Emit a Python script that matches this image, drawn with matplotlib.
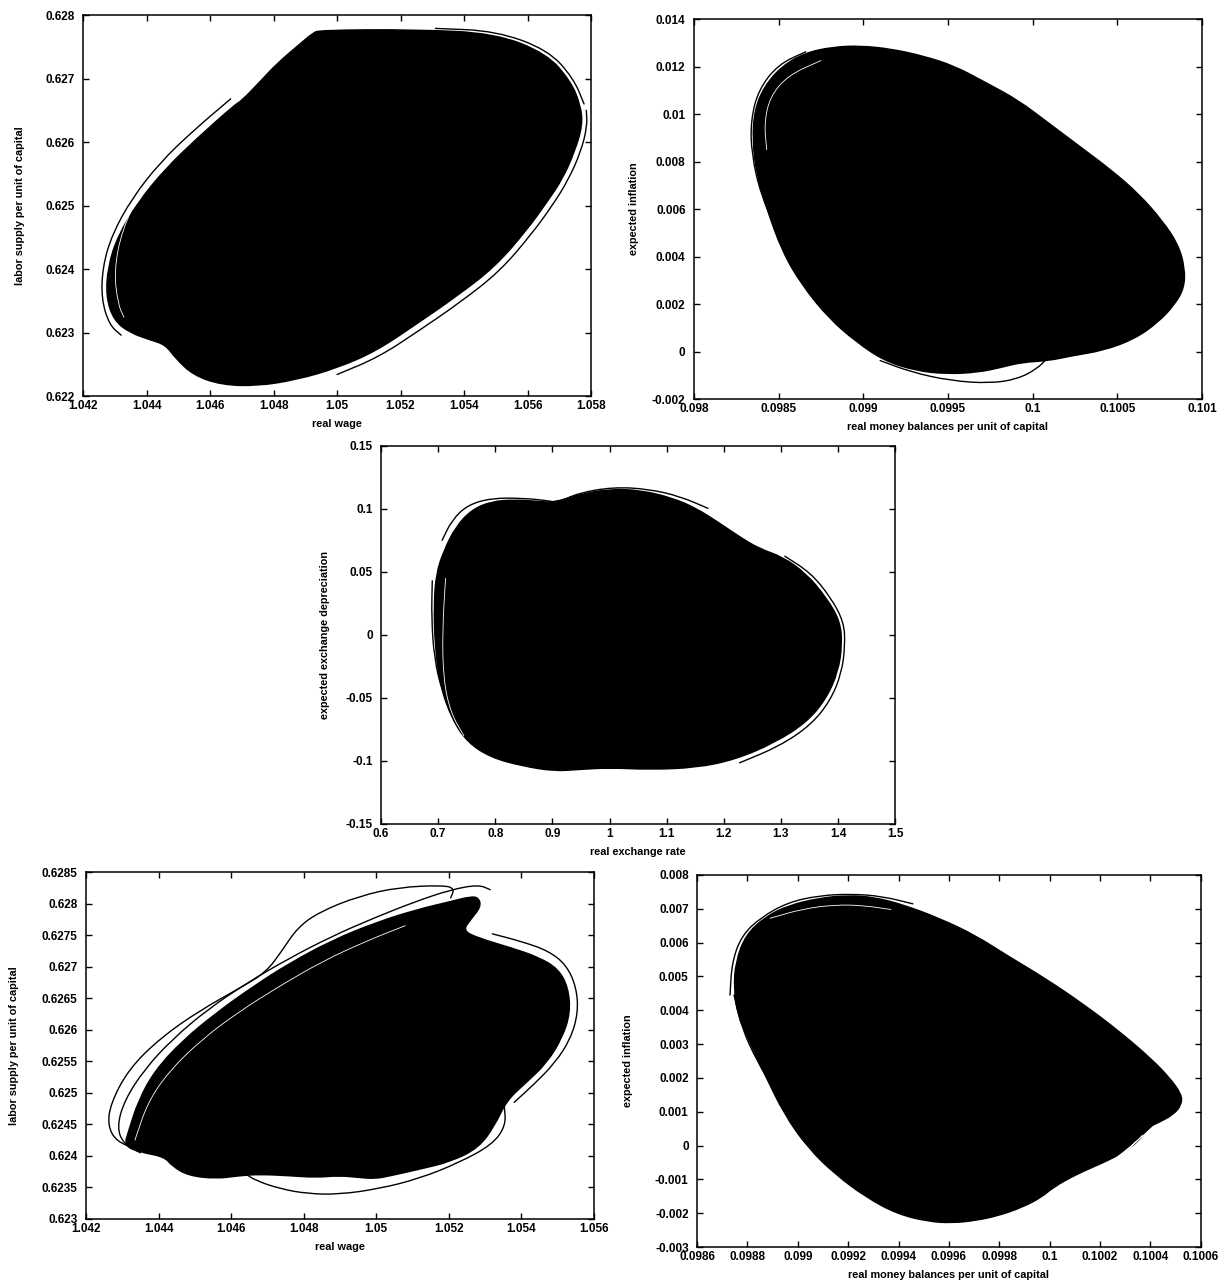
"""Phase portraits of the simulated model: five attractor projections."""
import numpy as np
import matplotlib
matplotlib.use('Agg')
import matplotlib.pyplot as plt
from matplotlib.path import Path
from matplotlib.patches import PathPatch
from matplotlib.ticker import FixedLocator, FuncFormatter

plt.rcParams.update({'font.family': ['Liberation Sans', 'DejaVu Sans'],
                     'font.weight': 'bold', 'font.size': 8})

# ---- panel 1: real wage vs labor supply ----
P1_WAGE = [1.04945, 1.05248, 1.05498, 1.0566, 1.05735, 1.05766, 1.05773, 1.05748, 1.0571,
           1.0566, 1.05598, 1.05498, 1.05373, 1.05248, 1.05123, 1.04998, 1.04873, 1.04748,
           1.04635, 1.04548, 1.04491, 1.0446, 1.0441, 1.04348, 1.04298, 1.04273, 1.04279,
           1.0431, 1.04373, 1.0446, 1.0456, 1.04679, 1.04698, 1.0476, 1.0481, 1.04885, 1.04923]
P1_LABOR = [0.62776, 0.62777, 0.62771, 0.62739, 0.62696, 0.62659, 0.62627, 0.62585, 0.62542,
            0.62505, 0.62462, 0.62404, 0.62356, 0.62313, 0.62271, 0.62244, 0.62226, 0.62216,
            0.62218, 0.62233, 0.6226, 0.62281, 0.62289, 0.623, 0.62319, 0.62356, 0.62404,
            0.62452, 0.62505, 0.62558, 0.62606, 0.62659, 0.62664, 0.62696, 0.62723, 0.62755, 0.62771]
P1_LOOP_LEFT_WAGE = [1.04665, 1.04545, 1.04443, 1.04355, 1.04292, 1.04262, 1.04258, 1.04283, 1.0432]
P1_LOOP_LEFT_LABOR = [0.62668, 0.62617, 0.62568, 0.62512, 0.62455, 0.62404, 0.62353, 0.62312, 0.62296]
P1_LOOP_RIGHT_WAGE = [1.05, 1.0513, 1.05258, 1.05386, 1.05512, 1.05614, 1.05678, 1.05728,
                      1.05768, 1.05788, 1.05785]
P1_LOOP_RIGHT_LABOR = [0.62234, 0.62261, 0.62303, 0.62347, 0.62396, 0.62456, 0.625, 0.6254,
                       0.62585, 0.62625, 0.6265]
P1_LOOP_TOP_WAGE = [1.0531, 1.055, 1.05665, 1.05745, 1.05778]
P1_LOOP_TOP_LABOR = [0.62779, 0.62775, 0.62745, 0.627, 0.6266]
P1_STREAK_WAGE = [1.04385, 1.04323, 1.04298, 1.0431, 1.04329]
P1_STREAK_LABOR = [0.62526, 0.62462, 0.62398, 0.62345, 0.62324]

# ---- panel 2: real money balances vs expected inflation ----
P2_MONEY = [0.098347, 0.098359, 0.098417, 0.098521, 0.09866, 0.098822, 0.098984, 0.099169,
            0.099354, 0.099539, 0.099725, 0.09991, 0.100095, 0.10028, 0.100465, 0.100627,
            0.100766, 0.100859, 0.100898, 0.100894, 0.100836, 0.100743, 0.100604, 0.100419,
            0.100234, 0.100095, 0.099933, 0.099817, 0.099678, 0.099493, 0.099308, 0.099123,
            0.098961, 0.098799, 0.098637, 0.098521, 0.098428, 0.09837]
P2_INFL = [0.0089, 0.01018, 0.01117, 0.01202, 0.01258, 0.01282, 0.01287, 0.01273, 0.01244,
           0.01202, 0.01131, 0.0106, 0.00961, 0.00862, 0.00763, 0.00663, 0.0055, 0.00451,
           0.00352, 0.00267, 0.00196, 0.00125, 0.00054, 0.00005, -0.00017, -0.00038,
           -0.00045, -0.00066, -0.00087, -0.00094, -0.0008, -0.00038, 0.0004, 0.00139,
           0.00281, 0.00423, 0.00607, 0.00748]
P2_LOOP_LOW_MONEY = [0.0991, 0.099285, 0.099516, 0.099748, 0.09991, 0.100025, 0.100083]
P2_LOOP_LOW_INFL = [-0.00038, -0.00087, -0.00123, -0.00134, -0.00116, -0.00073, -0.00031]
P2_LOOP_LEFT_MONEY = [0.09866, 0.098498, 0.098382, 0.098336, 0.09834, 0.098394, 0.098498,
                      0.09866, 0.098845, 0.09903, 0.099215]
P2_LOOP_LEFT_INFL = [0.01262, 0.01209, 0.01103, 0.00975, 0.00833, 0.00663, 0.00493,
                     0.00309, 0.00154, 0.00026, -0.00059]
P2_STREAK_MONEY = [0.09875, 0.09856, 0.09845, 0.098415, 0.09843]
P2_STREAK_INFL = [0.01225, 0.01165, 0.01075, 0.0096, 0.0085]

# ---- panel 3: real exchange rate vs expected depreciation ----
P3_RATE = [0.693, 0.6966, 0.7103, 0.731, 0.7586, 0.7931, 0.8345, 0.8759, 0.9034, 0.9448, 1.0,
           1.0552, 1.1103, 1.1517, 1.1931, 1.2276, 1.2621, 1.3034, 1.3448, 1.3793, 1.4034,
           1.4069, 1.4, 1.3793, 1.3448, 1.2897, 1.2207, 1.1517, 1.069, 1.0, 0.9448, 0.9034,
           0.8483, 0.7931, 0.7517, 0.7241, 0.7034, 0.6945]
P3_DEPR = [0.0243, 0.0484, 0.0671, 0.0858, 0.0992, 0.1059, 0.1072, 0.1059, 0.1051, 0.1112,
           0.1158, 0.1147, 0.1086, 0.1005, 0.0885, 0.0778, 0.0684, 0.0618, 0.0484, 0.0297,
           0.011, -0.0078, -0.0291, -0.0505, -0.0693, -0.0853, -0.0987, -0.1053, -0.1067,
           -0.1053, -0.1067, -0.108, -0.104, -0.0973, -0.0853, -0.0666, -0.0398, -0.0078]
P3_LOOP_RIGHT_RATE = [1.3069, 1.3517, 1.3862, 1.4103, 1.4124, 1.4062, 1.3862, 1.3517, 1.2966, 1.2276]
P3_LOOP_RIGHT_DEPR = [0.0625, 0.0495, 0.0305, 0.0105, -0.0085, -0.0305, -0.0525, -0.0718, -0.0885, -0.1015]
P3_LOOP_TOP_RATE = [0.7069, 0.7241, 0.7517, 0.7931, 0.8483, 0.8897, 0.9103, 0.9448, 1.0069,
                    1.069, 1.1241, 1.1724]
P3_LOOP_TOP_DEPR = [0.0751, 0.0912, 0.1032, 0.1086, 0.1086, 0.1067, 0.1051, 0.1126, 0.1174,
                    0.1158, 0.1099, 0.1005]
P3_LOOP_LEFT_RATE = [0.6897, 0.6883, 0.6931, 0.7069, 0.731, 0.7655]
P3_LOOP_LEFT_DEPR = [0.043, 0.0136, -0.0184, -0.0452, -0.0693, -0.0866]
P3_STREAK_RATE = [0.713, 0.7075, 0.709, 0.722, 0.745]
P3_STREAK_DEPR = [0.045, 0.005, -0.035, -0.062, -0.08]

# ---- panel 4: real wage vs labor supply (second economy) ----
P4_WAGE = [1.05282, 1.05288, 1.0526, 1.05238, 1.05282, 1.0537, 1.05447, 1.05502, 1.05529,
           1.05534, 1.05512, 1.05469, 1.05414, 1.05359, 1.05326, 1.05282, 1.05205, 1.05118,
           1.05041, 1.04997, 1.04953, 1.04898, 1.04833, 1.04756, 1.04679, 1.04624, 1.04559,
           1.04482, 1.04438, 1.04416, 1.0435, 1.04306, 1.04317, 1.04345, 1.0439, 1.04465,
           1.0456, 1.0466, 1.0476, 1.0488, 1.05, 1.0511, 1.05205, 1.0526]
P4_LABOR = [0.62809, 0.62795, 0.62775, 0.62757, 0.62745, 0.6273, 0.62715, 0.62696, 0.62666,
            0.62626, 0.62587, 0.62547, 0.62517, 0.62488, 0.62448, 0.62413, 0.62391, 0.62379,
            0.62369, 0.62364, 0.62366, 0.62369, 0.62366, 0.62369, 0.62371, 0.62369, 0.62364,
            0.62369, 0.62384, 0.62399, 0.62406, 0.62416, 0.62438, 0.62488, 0.62535, 0.62582,
            0.62627, 0.62668, 0.62705, 0.62742, 0.6277, 0.6279, 0.62803, 0.62811]
P4_LOOP_OUTER_WAGE = [1.05205, 1.05216, 1.05184, 1.05063, 1.04953, 1.04844, 1.04783, 1.0474,
                      1.04696, 1.04624, 1.04515, 1.04405, 1.04317, 1.04268, 1.0426, 1.04284, 1.04339]
P4_LOOP_OUTER_LABOR = [0.62809, 0.62824, 0.62829, 0.62826, 0.62812, 0.62787, 0.62762, 0.62725,
                       0.62691, 0.62666, 0.62631, 0.62587, 0.62537, 0.62483, 0.62448, 0.62423, 0.62411]
P4_LOOP_MID_WAGE = [1.05314, 1.05282, 1.05205, 1.05107, 1.04997, 1.04877, 1.04756, 1.04646,
                    1.04537, 1.04438, 1.04361, 1.04306, 1.04285, 1.04305, 1.0435]
P4_LOOP_MID_LABOR = [0.62822, 0.6283, 0.62822, 0.62803, 0.62778, 0.62748, 0.62712, 0.62675,
                     0.62633, 0.62585, 0.62537, 0.62488, 0.62445, 0.62418, 0.62405]
P4_LOOP_RIGHT_WAGE = [1.0532, 1.054, 1.05475, 1.05525, 1.05552, 1.05556, 1.05535, 1.05492,
                      1.05432, 1.0538]
P4_LOOP_RIGHT_LABOR = [0.62752, 0.6274, 0.62725, 0.62702, 0.62666, 0.62626, 0.62585, 0.62547,
                       0.62512, 0.62485]
P4_LOOP_LOW_WAGE = [1.05353, 1.05357, 1.0532, 1.05227, 1.05118, 1.05008, 1.04898, 1.04811,
                    1.04734, 1.04668, 1.04641]
P4_LOOP_LOW_LABOR = [0.62478, 0.62448, 0.62418, 0.62389, 0.62364, 0.62348, 0.62339, 0.6234,
                     0.62348, 0.62361, 0.62371]
P4_STREAK_WAGE = [1.04335, 1.0437, 1.0443, 1.0452, 1.0462, 1.0473, 1.0485, 1.0497, 1.0508]
P4_STREAK_LABOR = [0.62425, 0.62485, 0.62535, 0.62585, 0.62628, 0.62668, 0.62708, 0.6274, 0.62765]

# ---- panel 5: real money balances vs expected inflation (second economy) ----
P5_MONEY = [0.098747, 0.098754, 0.098793, 0.09887, 0.098963, 0.0990865, 0.099195, 0.099303,
            0.099426, 0.099565, 0.099704, 0.099828, 0.099982, 0.100137, 0.100276, 0.100399,
            0.100476, 0.100523, 0.100523, 0.100492, 0.10043, 0.100399, 0.100353, 0.100291,
            0.100214, 0.100106, 0.100013, 0.099967, 0.09989, 0.099797, 0.099704, 0.099612,
            0.099519, 0.099395, 0.099272, 0.099148, 0.09904, 0.098947, 0.09887, 0.098808, 0.098762]
P5_INFL = [0.004647, 0.005431, 0.006216, 0.006755, 0.007098, 0.007314, 0.007392, 0.007343,
           0.007098, 0.006706, 0.006216, 0.005627, 0.004941, 0.004157, 0.003373, 0.002588,
           0.002, 0.00151, 0.001216, 0.000922, 0.000676, 0.000578, 0.000137, -0.000206,
           -0.0005, -0.000843, -0.001235, -0.001529, -0.001824, -0.002069, -0.002216,
           -0.002284, -0.002245, -0.00202, -0.001529, -0.000843, -0.000059, 0.000922,
           0.002098, 0.003078, 0.003863]
P5_LOOP_TOP_MONEY = [0.098731, 0.098739, 0.098778, 0.098855, 0.098963, 0.099086, 0.09921, 0.099334, 0.099457]
P5_LOOP_TOP_INFL = [0.004451, 0.005431, 0.006216, 0.006755, 0.007196, 0.007392, 0.007441, 0.007373, 0.007147]
P5_LOOP_LEFT_MONEY = [0.098747, 0.098778, 0.098839, 0.098917, 0.098994, 0.099086, 0.099148]
P5_LOOP_LEFT_INFL = [0.004451, 0.003471, 0.00249, 0.00151, 0.000627, -0.000255, -0.000745]
P5_STREAK_MONEY = [0.09889, 0.09902, 0.09915, 0.09926, 0.09937]
P5_STREAK_INFL = [0.00672, 0.00700, 0.00712, 0.00710, 0.00698]
P5_LOOP_SMALL_MONEY = [0.100395, 0.100362, 0.100322, 0.100284, 0.100268, 0.100296, 0.100334, 0.100368]
P5_LOOP_SMALL_INFL = [0.00045, 0.00024, -0.00002, -0.00025, -0.00034, -0.00022, 0.00004, 0.0003]

LAB_WAGE = 'real wage'
LAB_LABOR = 'labor supply per unit of capital'
LAB_MONEY = 'real money balances per unit of capital'
LAB_INFL = 'expected inflation'


def fmt(v, _pos=None):
    return f'{v:.10g}'


def curved(xs, ys, closed):
    """Quadratic-Bezier path through the midpoints of the traced outline."""
    pts = np.column_stack([xs, ys])
    mids = (pts[:-1] + pts[1:]) / 2
    if closed:
        last_mid = (pts[-1] + pts[0]) / 2
        verts = [last_mid]
        codes = [Path.MOVETO]
        for p, m in zip(pts, list(mids) + [last_mid]):
            verts += [p, m]
            codes += [Path.CURVE3, Path.CURVE3]
        verts.append(last_mid); codes.append(Path.CLOSEPOLY)
    else:
        verts = [pts[0], mids[0]]
        codes = [Path.MOVETO, Path.LINETO]
        for p, m in zip(pts[1:-1], mids[1:]):
            verts += [p, m]
            codes += [Path.CURVE3, Path.CURVE3]
        verts.append(pts[-1]); codes.append(Path.LINETO)
    return Path(verts, codes)


def panel(rect, xlim, ylim, xticks, yticks, xlabel, ylabel, ylab_x):
    ax = fig.add_axes(rect)
    ax.set_xlim(*xlim); ax.set_ylim(*ylim)
    ax.xaxis.set_major_locator(FixedLocator(xticks))
    ax.yaxis.set_major_locator(FixedLocator(yticks))
    ax.xaxis.set_major_formatter(FuncFormatter(fmt))
    ax.yaxis.set_major_formatter(FuncFormatter(fmt))
    ax.tick_params(direction='in', top=True, right=True, length=4, width=1, labelsize=8.5)
    ax.tick_params(axis='x', pad=3)
    ax.tick_params(axis='y', pad=6)
    for s in ax.spines.values():
        s.set_linewidth(1.1)
    ax.set_xlabel(xlabel, fontsize=7.8, fontweight='bold', labelpad=5)
    ax.set_ylabel(ylabel, fontsize=7.8, fontweight='bold')
    ax.yaxis.set_label_coords(ylab_x, 0.5)
    return ax


def blob(ax, xs, ys):
    ax.add_patch(PathPatch(curved(xs, ys, True), facecolor='black', edgecolor='black',
                           lw=1.2, joinstyle='round', zorder=2))


def loop(ax, xs, ys, color='black', lw=1.0):
    ax.add_patch(PathPatch(curved(xs, ys, False), facecolor='none', edgecolor=color,
                           lw=lw, capstyle='round', zorder=3))


fig = plt.figure(figsize=(12.26, 12.86), dpi=100)

ax1 = panel([0.0677, 0.692, 0.4144, 0.2963], (1.042, 1.058), (0.622, 0.628),
            [1.042, 1.044, 1.046, 1.048, 1.05, 1.052, 1.054, 1.056, 1.058],
            [0.622, 0.623, 0.624, 0.625, 0.626, 0.627, 0.628], LAB_WAGE, LAB_LABOR, -0.114)
blob(ax1, P1_WAGE, P1_LABOR)
loop(ax1, P1_LOOP_LEFT_WAGE, P1_LOOP_LEFT_LABOR)
loop(ax1, P1_LOOP_RIGHT_WAGE, P1_LOOP_RIGHT_LABOR)
loop(ax1, P1_LOOP_TOP_WAGE, P1_LOOP_TOP_LABOR)
loop(ax1, P1_STREAK_WAGE, P1_STREAK_LABOR, color='white', lw=0.6)

ax2 = panel([0.566, 0.6897, 0.4144, 0.2955], (0.098, 0.101), (-0.002, 0.014),
            [0.098, 0.0985, 0.099, 0.0995, 0.1, 0.1005, 0.101],
            [-0.002, 0, 0.002, 0.004, 0.006, 0.008, 0.01, 0.012, 0.014],
            LAB_MONEY, LAB_INFL, -0.108)
blob(ax2, P2_MONEY, P2_INFL)
loop(ax2, P2_LOOP_LOW_MONEY, P2_LOOP_LOW_INFL)
loop(ax2, P2_LOOP_LEFT_MONEY, P2_LOOP_LEFT_INFL)
loop(ax2, P2_STREAK_MONEY, P2_STREAK_INFL, color='white', lw=0.6)

ax3 = panel([0.3108, 0.3593, 0.4193, 0.2939], (0.6, 1.5), (-0.15, 0.15),
            [0.6, 0.7, 0.8, 0.9, 1.0, 1.1, 1.2, 1.3, 1.4, 1.5],
            [-0.15, -0.1, -0.05, 0, 0.05, 0.1, 0.15],
            'real exchange rate', 'expected exchange depreciation', -0.099)
blob(ax3, P3_RATE, P3_DEPR)
loop(ax3, P3_LOOP_RIGHT_RATE, P3_LOOP_RIGHT_DEPR)
loop(ax3, P3_LOOP_TOP_RATE, P3_LOOP_TOP_DEPR)
loop(ax3, P3_LOOP_LEFT_RATE, P3_LOOP_LEFT_DEPR)
loop(ax3, P3_STREAK_RATE, P3_STREAK_DEPR, color='white', lw=0.6)

ax4 = panel([0.0701, 0.0521, 0.4144, 0.2698], (1.042, 1.056), (0.623, 0.6285),
            [1.042, 1.044, 1.046, 1.048, 1.05, 1.052, 1.054, 1.056],
            [0.623, 0.6235, 0.624, 0.6245, 0.625, 0.6255, 0.626, 0.6265, 0.627,
             0.6275, 0.628, 0.6285], LAB_WAGE, LAB_LABOR, -0.132)
blob(ax4, P4_WAGE, P4_LABOR)
loop(ax4, P4_LOOP_OUTER_WAGE, P4_LOOP_OUTER_LABOR)
loop(ax4, P4_LOOP_MID_WAGE, P4_LOOP_MID_LABOR)
loop(ax4, P4_LOOP_RIGHT_WAGE, P4_LOOP_RIGHT_LABOR)
loop(ax4, P4_LOOP_LOW_WAGE, P4_LOOP_LOW_LABOR)
loop(ax4, P4_STREAK_WAGE, P4_STREAK_LABOR, color='white', lw=0.6)

ax5 = panel([0.5685, 0.0303, 0.411, 0.2893], (0.0986, 0.1006), (-0.003, 0.008),
            [0.0986, 0.0988, 0.099, 0.0992, 0.0994, 0.0996, 0.0998, 0.1, 0.1002,
             0.1004, 0.1006],
            [-0.003, -0.002, -0.001, 0, 0.001, 0.002, 0.003, 0.004, 0.005, 0.006,
             0.007, 0.008], LAB_MONEY, LAB_INFL, -0.127)
blob(ax5, P5_MONEY, P5_INFL)
loop(ax5, P5_LOOP_TOP_MONEY, P5_LOOP_TOP_INFL)
loop(ax5, P5_LOOP_LEFT_MONEY, P5_LOOP_LEFT_INFL)
loop(ax5, P5_STREAK_MONEY, P5_STREAK_INFL, color='white', lw=0.6)
loop(ax5, P5_LOOP_SMALL_MONEY, P5_LOOP_SMALL_INFL, color='white', lw=0.7)

fig.savefig('out.png', dpi=100, facecolor='white')
